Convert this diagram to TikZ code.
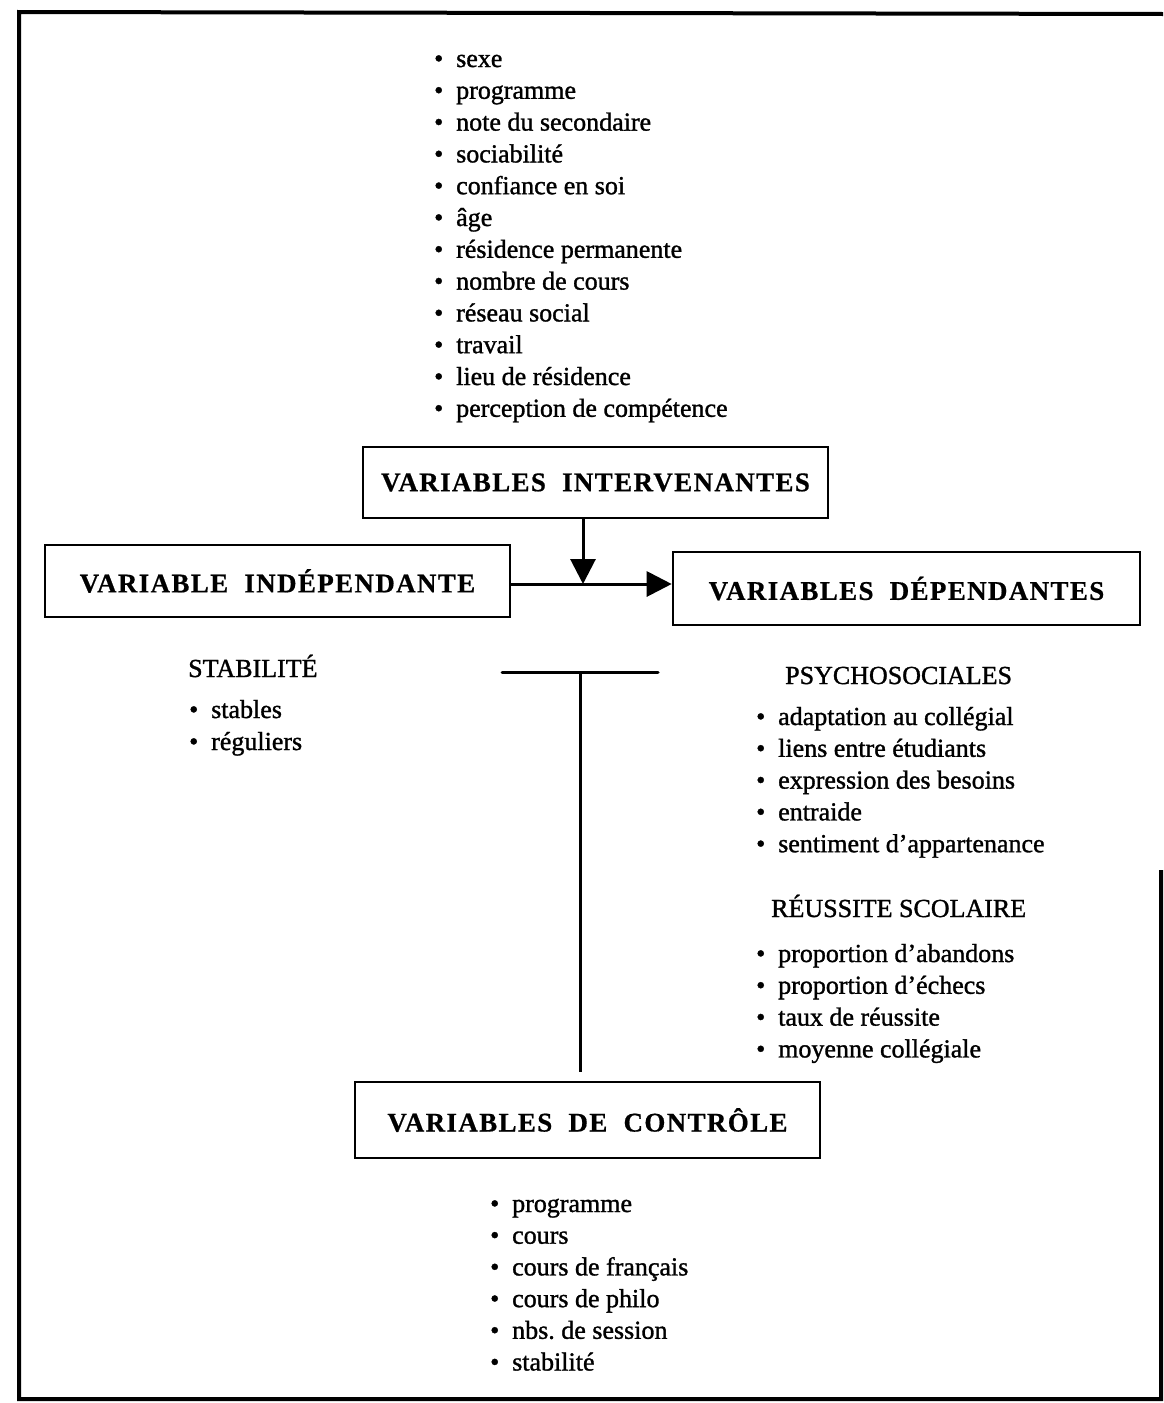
\documentclass[tikz,border=0pt]{standalone}
\usepackage{fontspec}
\setmainfont{Liberation Serif}
\newfontfamily\listfont[FakeBold=1.2,Ligatures=TeX]{Liberation Serif}
\newfontfamily\titlefont[LetterSpace=5,FakeBold=0.6]{Liberation Serif Bold}
\usetikzlibrary{arrows.meta}
\newcommand\bul{\makebox[22pt][l]{\textbullet}}
\frenchspacing
\begin{document}
\begin{tikzpicture}[x=1pt,y=-1pt,
  item/.style={anchor=base west,inner sep=0pt,font=\listfont\fontsize{26}{30}\selectfont},
  heading/.style={anchor=base west,inner sep=0pt,font=\listfont\fontsize{26}{30}\selectfont},
  varbox/.style={draw,line width=2.6pt,inner sep=0pt,font=\titlefont\fontsize{27}{30}\selectfont},
  conn/.style={line width=3pt},
  arrowline/.style={line width=3pt,-{Triangle[length=25pt,width=25pt]}}]
\useasboundingbox (0,0) rectangle (1163,1403);
% frame
\draw[line width=4pt] (1161,870) -- (1161,1399) -- (19,1399) -- (19,12) -- (1163,14);
% top list
\foreach \t [count=\i from 0] in {sexe,programme,note du secondaire,sociabilité,confiance en soi,âge,résidence permanente,nombre de cours,réseau social,travail,lieu de résidence,perception de compétence}
  \node[item] (top\i) at (434,{67+31.8*\i}) {\bul\t};
% boxes
\node[varbox,minimum width=465pt,minimum height=71pt] (inter) at (595.5,482.5) {VARIABLES\ \ INTERVENANTES};
\node[varbox,minimum width=465pt,minimum height=72pt] (indep) at (277.5,581) {VARIABLE\ \ INDÉPENDANTE};
\node[varbox,minimum width=467pt,minimum height=73pt] (dep) at (906.5,588.5) {VARIABLES\ \ DÉPENDANTES};
\node[varbox,minimum width=465pt,minimum height=76pt] (ctrl) at (587.5,1120) {VARIABLES\ \ DE\ \ CONTRÔLE};
% connectors
\coordinate (j) at (583,584);
\draw[arrowline] (inter.south -| j) -- (j);
\draw[arrowline] (indep.east |- j) -- (dep.west |- j);
\coordinate (tl) at (502,672);
\coordinate (tr) at (658,672);
\coordinate (tm) at (580,672);
\draw[conn,line cap=round] (tl) -- (tr);
\draw[conn,shorten >=9pt] (tm) -- (tm |- ctrl.north);
% stabilite
\node[heading] (stab) at (188,677) {STABILITÉ};
\node[item] (st1) at (189,718) {\bul stables};
\node[item] (st2) at (189,750) {\bul réguliers};
% psychosociales
\node[heading] (psy) at (785,684) {PSYCHOSOCIALES};
\foreach \t [count=\i from 0] in {adaptation au collégial,liens entre étudiants,expression des besoins,entraide,sentiment d’appartenance}
  \node[item] (psy\i) at (756,{725+31.8*\i}) {\bul\t};
% reussite
\node[heading] (reu) at (771,917) {RÉUSSITE SCOLAIRE};
\foreach \t [count=\i from 0] in {proportion d’abandons,proportion d’échecs,taux de réussite,moyenne collégiale}
  \node[item] (reu\i) at (756,{962+31.8*\i}) {\bul\t};
% bottom list
\foreach \t [count=\i from 0] in {programme,cours,cours de français,cours de philo,nbs. de session,stabilité}
  \node[item] (bot\i) at (490,{1212+31.7*\i}) {\bul\t};
\end{tikzpicture}
\end{document}
